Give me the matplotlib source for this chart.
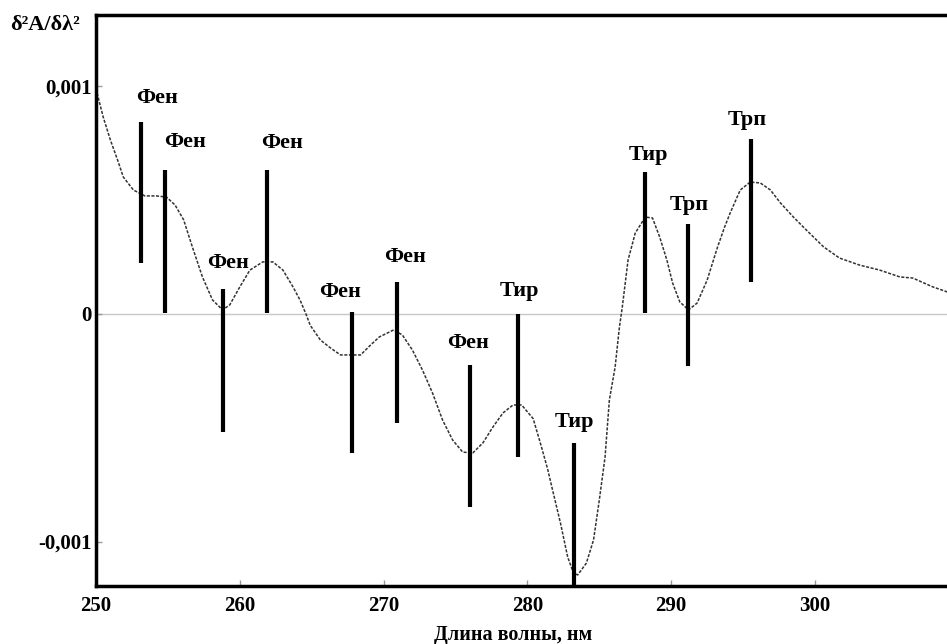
import matplotlib
matplotlib.use("Agg")
import matplotlib.pyplot as plt
import numpy as np

plt.rcParams['font.family'] = ['Liberation Serif', 'DejaVu Serif']
plt.rcParams['font.weight'] = 'bold'

# Second-derivative spectrum (values in units of 1e-3)
wavelength = [250.0, 250.5, 251.0, 251.5, 251.9, 252.6, 253.4, 254.2, 254.9, 255.5,
              256.1, 256.7, 257.4, 258.1, 258.8, 259.3, 260.0, 260.7, 261.6, 262.3,
              263.0, 263.7, 264.2, 264.6, 264.9, 265.6, 266.3, 267.0, 268.4, 269.1,
              269.7, 270.7, 271.3, 272.0, 272.7, 273.4, 274.1, 274.8, 275.5, 276.2,
              276.9, 277.6, 278.3, 279.0, 279.6, 280.4, 280.9, 281.4, 281.8, 282.3,
              282.8, 283.2, 283.5, 284.1, 284.6, 285.0, 285.4, 285.7, 286.1, 286.4,
              286.6, 287.0, 287.5, 288.2, 288.7, 289.2, 289.7, 290.1, 290.6, 291.2,
              291.8, 292.5, 293.2, 293.7, 294.1, 294.8, 295.5, 296.2, 296.9, 297.6,
              298.5, 299.4, 300.6, 301.7, 303.1, 304.5, 305.9, 306.8, 308.2, 309.2]
deriv = [0.99, 0.866, 0.765, 0.677, 0.602, 0.545, 0.519, 0.519, 0.514, 0.479,
         0.413, 0.295, 0.163, 0.062, 0.018, 0.040, 0.119, 0.193, 0.229, 0.229,
         0.193, 0.119, 0.06, 0.0, -0.05, -0.114, -0.149, -0.18, -0.18, -0.136,
         -0.101, -0.07, -0.092, -0.158, -0.246, -0.347, -0.466, -0.554, -0.607, -0.611,
         -0.567, -0.497, -0.435, -0.40, -0.40, -0.46, -0.567, -0.68, -0.787, -0.919,
         -1.068, -1.138, -1.147, -1.095, -0.993, -0.818, -0.629, -0.378, -0.233, -0.057,
         0.031, 0.237, 0.356, 0.426, 0.422, 0.338, 0.237, 0.136, 0.053, 0.018,
         0.048, 0.149, 0.29, 0.38, 0.444, 0.545, 0.58, 0.576, 0.545, 0.488,
         0.426, 0.369, 0.295, 0.246, 0.215, 0.193, 0.163, 0.158, 0.119, 0.097]

# Assignment bars
bar_names = ['Фен', 'Фен', 'Фен', 'Фен', 'Фен', 'Фен', 'Фен', 'Тир', 'Тир', 'Тир', 'Трп', 'Трп']
bar_x = [253.13, 254.83, 258.80, 261.86, 267.77, 270.93, 276.0, 279.38, 283.24, 288.21, 291.17, 295.55]
bar_top = [0.844, 0.633, 0.110, 0.633, 0.009, 0.141, -0.224, 0.0, -0.567, 0.624, 0.396, 0.769]
bar_bottom = [0.224, 0.004, -0.519, 0.004, -0.611, -0.479, -0.848, -0.629, -1.26, 0.004, -0.229, 0.141]
label_x = [254.24, 256.19, 259.18, 262.93, 266.97, 271.49, 275.87, 279.42, 283.24, 288.39, 291.24, 295.27]
label_y = [0.949, 0.756, 0.224, 0.752, 0.097, 0.251, -0.127, 0.101, -0.475, 0.699, 0.479, 0.853]

x_ticks = [250, 260, 270, 280, 290, 300]
y_ticks = [-0.001, 0.0, 0.001]
y_ticklabels = ['-0,001', '0', '0,001']

scale = 1e-3

fig = plt.figure(figsize=(9.47, 6.44), dpi=100)
ax = fig.add_axes([96/947, (644-586)/644, 1 - 96/947, (586-15)/644])

ax.axhline(0, color='#c8c8c8', lw=1.0, zorder=1)
ax.plot(wavelength, np.array(deriv) * scale, color='#333333', lw=1.1,
        linestyle=(0, (2, 1)), zorder=2)
ax.vlines(bar_x, np.array(bar_bottom) * scale, np.array(bar_top) * scale,
          color='black', lw=3.0, zorder=3)
for name, lx, ly in zip(bar_names, label_x, label_y):
    ax.text(lx, ly * scale, name, ha='center', va='center', fontsize=16,
            fontweight='bold', color='black', zorder=4)

ax.set_xlim(250, 250 + 851/14.38)
ax.set_ylim(-(586-314)/227.5 * scale, (314-15)/227.5 * scale)
ax.set_xticks(x_ticks)
ax.set_xticklabels([str(t) for t in x_ticks])
ax.set_yticks(y_ticks)
ax.set_yticklabels(y_ticklabels)
ax.tick_params(axis='both', direction='in', length=4, width=1, color='#999999',
               labelsize=15)
ax.tick_params(axis='x', pad=7)
ax.tick_params(axis='y', pad=3)
for lab in ax.get_xticklabels() + ax.get_yticklabels():
    lab.set_fontweight('bold')

for s in ['left', 'bottom', 'top']:
    ax.spines[s].set_linewidth(2.5)
    ax.spines[s].set_color('black')
ax.spines['right'].set_visible(False)

fig.text(10/947, 1 - 25/644, 'δ²A/δλ²', ha='left', va='center', fontsize=16,
         fontweight='bold')
fig.text(513/947, 1 - 635/644, 'Длина волны, нм', ha='center', va='center',
         fontsize=14.5, fontweight='bold')

fig.savefig('out.png', dpi=100)
